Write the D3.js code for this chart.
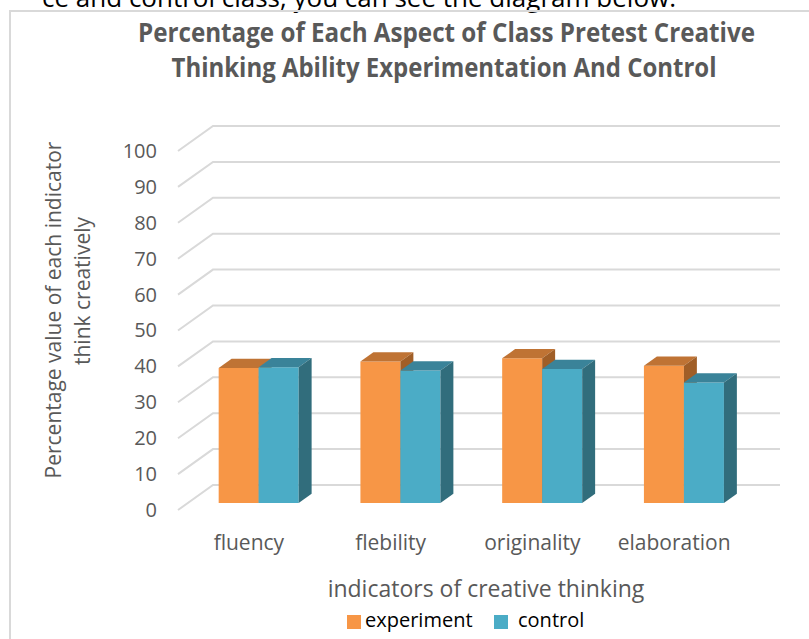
<!DOCTYPE html>
<html>
<head>
<meta charset="utf-8">
<script src="https://cdn.jsdelivr.net/npm/d3@7"></script>
<style>
  body { margin: 0; background: #fff; }
  svg { display: block; font-family: "Open Sans", sans-serif; }
</style>
</head>
<body>
<svg id="chart" width="809" height="639"></svg>
<script>
var categories = ["fluency", "flebility", "originality", "elaboration"];
var seriesNames = ["experiment", "control"];
var experiment = [37.6, 39.4, 40.3, 38.2];
var control = [37.8, 36.9, 37.3, 33.6];
var yTicks = [0, 10, 20, 30, 40, 50, 60, 70, 80, 90, 100];

var titleLines = ["Percentage of Each Aspect of Class Pretest Creative",
                  "Thinking Ability Experimentation And Control"];
var yTitleLines = ["Percentage value of each indicator", "think creatively"];
var xTitle = "indicators of creative thinking";
var topText = "ce and control class, you can see the diagram below.";

var faceColors = {
  experiment: {front: "#F79646", top: "#BF7334", side: "#A05E27"},
  control:    {front: "#4BACC6", top: "#3A8399", side: "#316D7C"}
};

var svg = d3.select("#chart"),
    plot = {left: 178, right: 745, bottom: 510, top: 151},
    depth = {x: 35, y: -25},
    barDepth = [0.28, 0.65];

var x = d3.scaleBand()
    .domain(categories)
    .range([plot.left, plot.right])
    .paddingInner(0.4356)
    .paddingOuter(0.2178);

var xs = d3.scaleBand()
    .domain(seriesNames)
    .range([0, x.bandwidth()]);

var y = d3.scaleLinear()
    .domain([0, 100])
    .range([plot.bottom, plot.top]);

// project a point on the front plane back by fraction t of the floor depth
function pt(xf, v, t) {
  return [xf + depth.x * t, y(v) + depth.y * t];
}
var line = d3.line();

// text cut off above the chart frame (as in the source page)
svg.append("text")
    .attr("x", 676)
    .attr("y", 7)
    .attr("text-anchor", "end")
    .style("font-size", "26px")
    .style("fill", "#000")
    .text(topText);

// frame
svg.append("path")
    .attr("d", "M10,639V11H809")
    .attr("fill", "none")
    .attr("stroke", "#d9d9d9")
    .attr("stroke-width", 2);

// title
svg.selectAll(".title")
    .data(titleLines)
  .enter().append("text")
    .attr("class", "title")
    .attr("x", function(d, i) { return i == 0 ? 446.5 : 444; })
    .attr("y", function(d, i) { return 42 + i * 35; })
    .attr("text-anchor", "middle")
    .attr("textLength", function(d, i) { return i == 0 ? 617 : 545; })
    .attr("lengthAdjust", "spacingAndGlyphs")
    .style("font-size", "26px")
    .style("font-weight", "bold")
    .style("fill", "#595959")
    .text(function(d) { return d; });

// gridlines: diagonal side wall + back wall
svg.append("g")
    .selectAll("path")
    .data(yTicks)
  .enter().append("path")
    .attr("d", function(d) {
      return line([pt(plot.left, d, 0), pt(plot.left, d, 1), pt(plot.right, d, 1)]);
    })
    .attr("fill", "none")
    .attr("stroke", "#d9d9d9")
    .attr("stroke-width", 2);

// y tick labels
var yAxis = svg.append("g")
    .attr("transform", "translate(161,0)")
    .call(d3.axisLeft(y).tickValues(yTicks).tickSize(0).tickPadding(4));
yAxis.select(".domain").remove();
yAxis.selectAll("text")
    .style("font-family", "'Open Sans', sans-serif")
    .style("font-size", "20px")
    .style("fill", "#595959");

// bars
var bars = [];
categories.forEach(function(c, i) {
  bars.push({cat: c, series: "experiment", value: experiment[i]});
  bars.push({cat: c, series: "control", value: control[i]});
});

var bar = svg.append("g")
    .selectAll("g")
    .data(bars)
  .enter().append("g")
    .attr("class", "bar");

bar.append("path")
    .attr("d", function(d) {
      var x0 = x(d.cat) + xs(d.series), x1 = x0 + xs.bandwidth(), t = barDepth[0];
      return line([pt(x0, 0, t), pt(x1, 0, t), pt(x1, d.value, t), pt(x0, d.value, t)]) + "Z";
    })
    .attr("fill", function(d) { return faceColors[d.series].front; });

bar.append("path")
    .attr("d", function(d) {
      var x0 = x(d.cat) + xs(d.series), x1 = x0 + xs.bandwidth();
      return line([pt(x0, d.value, barDepth[0]), pt(x1, d.value, barDepth[0]),
                   pt(x1, d.value, barDepth[1]), pt(x0, d.value, barDepth[1])]) + "Z";
    })
    .attr("fill", function(d) { return faceColors[d.series].top; });

bar.append("path")
    .attr("d", function(d) {
      var x1 = x(d.cat) + xs(d.series) + xs.bandwidth();
      return line([pt(x1, 0, barDepth[0]), pt(x1, 0, barDepth[1]),
                   pt(x1, d.value, barDepth[1]), pt(x1, d.value, barDepth[0])]) + "Z";
    })
    .attr("fill", function(d) { return faceColors[d.series].side; });

// category labels
svg.append("g")
    .selectAll("text")
    .data(categories)
  .enter().append("text")
    .attr("x", function(d) { return x(d) + x.bandwidth() / 2; })
    .attr("y", 550)
    .attr("text-anchor", "middle")
    .style("font-size", "21px")
    .style("fill", "#595959")
    .text(function(d) { return d; });

// axis titles
svg.append("text")
    .attr("x", 486)
    .attr("y", 597)
    .attr("text-anchor", "middle")
    .style("font-size", "23px")
    .style("fill", "#595959")
    .text(xTitle);

svg.selectAll(".ytitle")
    .data(yTitleLines)
  .enter().append("text")
    .attr("class", "ytitle")
    .attr("transform", function(d, i) {
      return "translate(" + (61 + i * 29) + "," + (i == 0 ? 310 : 291) + ") rotate(-90)";
    })
    .attr("text-anchor", "middle")
    .style("font-size", "21px")
    .style("fill", "#595959")
    .text(function(d) { return d; });

// legend
var legendX = {experiment: 347, control: 494};
var legend = svg.append("g")
    .selectAll("g")
    .data(seriesNames)
  .enter().append("g")
    .attr("transform", function(d) { return "translate(" + legendX[d] + ",615)"; });

legend.append("rect")
    .attr("width", 14)
    .attr("height", 14)
    .attr("fill", function(d) { return faceColors[d].front; });

legend.append("text")
    .attr("x", function(d) { return d == "experiment" ? 18 : 24; })
    .attr("y", 12)
    .style("font-size", "20px")
    .style("fill", "#000")
    .text(function(d) { return d; });
</script>
</body>
</html>
